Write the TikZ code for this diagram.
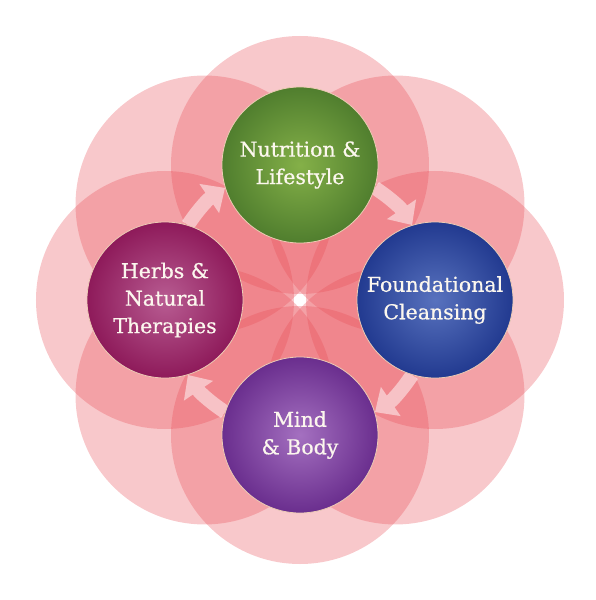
\documentclass[tikz,border=0pt]{standalone}
\usepackage{fontspec}
\setmainfont{DejaVu Serif}
\newfontfamily\bubblefont[FakeBold=0.6]{DejaVu Serif}
\usetikzlibrary{arrows.meta,backgrounds}

\definecolor{petalred}{RGB}{232,72,82}
\definecolor{nutrin}{RGB}{132,176,72}
\definecolor{nutrout}{RGB}{80,126,46}
\definecolor{cleanin}{RGB}{88,114,190}
\definecolor{cleanout}{RGB}{34,58,144}
\definecolor{mindin}{RGB}{164,112,192}
\definecolor{mindout}{RGB}{106,46,142}
\definecolor{herbin}{RGB}{184,92,146}
\definecolor{herbout}{RGB}{142,26,90}
\definecolor{labeltext}{RGB}{252,247,238}
\definecolor{rimline}{RGB}{236,204,180}

\begin{document}
\begin{tikzpicture}[
    x=1pt, y=1pt,
    bubble/.style={circle, minimum size=156pt, inner sep=0pt, align=center,
        draw=rimline, line width=0.8pt, text=labeltext,
        font=\bubblefont\fontsize{20.5}{27.5}\selectfont},
    petal/.style={fill=petalred, fill opacity=0.3},
    flow/.style={white, line width=14pt, -{Triangle[width=34pt, length=19pt]}}
]
\useasboundingbox (-300,-300) rectangle (296,300);

% Four practice areas
\node[bubble, inner color=nutrin, outer color=nutrout] (nutrition) at (90:135) {Nutrition \&\\Lifestyle};
\node[bubble, inner color=cleanin, outer color=cleanout] (cleansing) at (0:135) {Foundational\\Cleansing};
\node[bubble, inner color=mindin, outer color=mindout] (mind) at (270:135) {Mind\\\& Body};
\node[bubble, inner color=herbin, outer color=herbout] (herbs) at (180:135) {Herbs \&\\Natural\\Therapies};

% Petals and cycle arrows behind the bubbles
\begin{scope}[on background layer]
  \foreach \a in {0,45,...,315}
    \fill[petal] (\a:135) circle[radius=129];
  \begin{scope}[transparency group, opacity=0.5]
    \draw[flow] (herbs.73) to[bend left=11] (nutrition.197);
    \draw[flow] (nutrition.-17) to[bend left=11] (cleansing.107);
    \draw[flow] (cleansing.-107) to[bend left=11] (mind.17);
    \draw[flow] (mind.163) to[bend left=11] (herbs.-73);
  \end{scope}
\end{scope}

\end{tikzpicture}
\end{document}
